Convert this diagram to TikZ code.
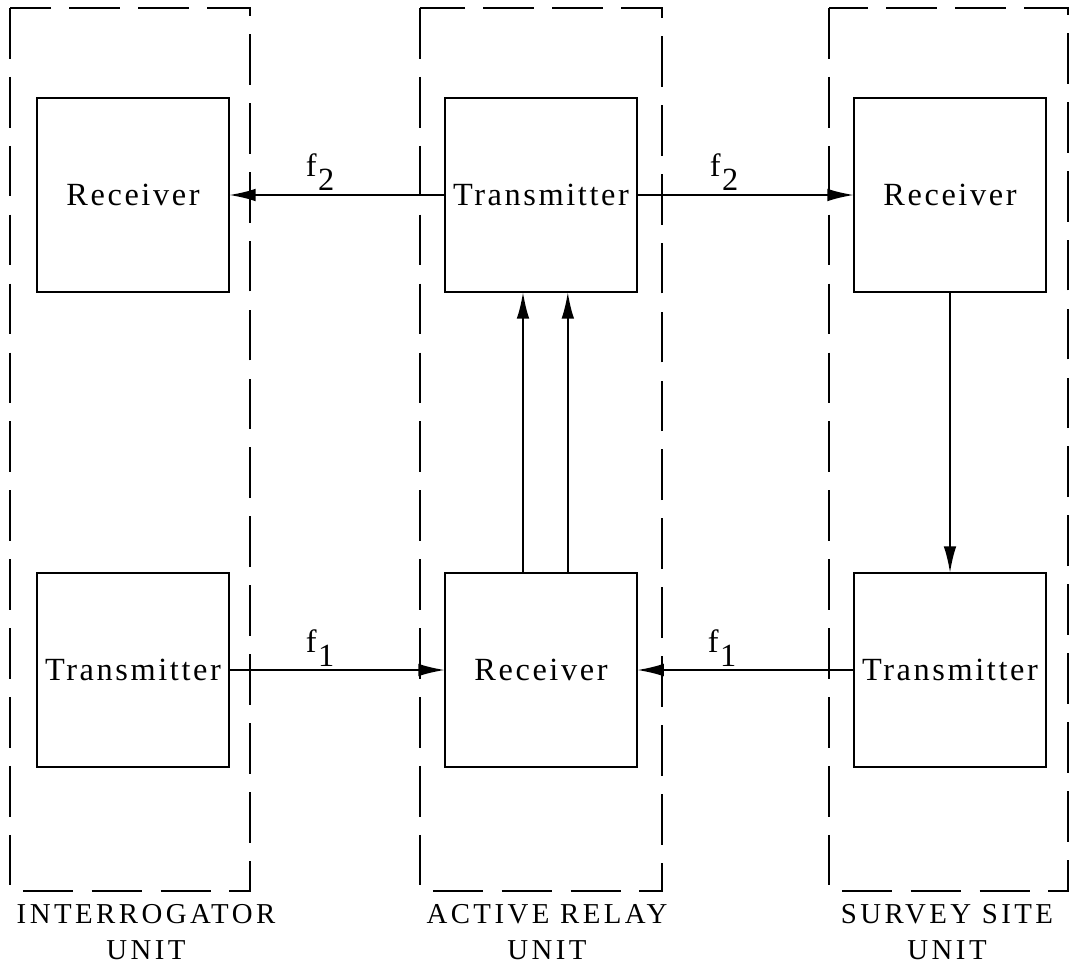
\documentclass[tikz,border=0pt]{standalone}
\usepackage{fontspec}
\setmainfont{Liberation Serif}
\newfontfamily\boxfont{Liberation Serif}[LetterSpace=8]
\newfontfamily\unitfont{Liberation Serif}[LetterSpace=12]
\usetikzlibrary{arrows.meta}

\begin{document}
\begin{tikzpicture}[x=0.025cm, y=-0.025cm,
    unitbox/.style={draw, line width=1.7pt, dash pattern=on 36pt off 13pt},
    block/.style={draw, line width=1.9pt, rectangle, inner sep=0pt, outer sep=0pt,
                  minimum width=4.8cm, minimum height=4.85cm, font=\boxfont\fontsize{23}{26}\selectfont},
    link/.style={line width=1.5pt, -{Latex[length=19pt, width=9pt]}},
    freq/.style={font=\boxfont\fontsize{23}{26}\selectfont},
    unitname/.style={font=\unitfont\fontsize{20.5}{26}\selectfont, align=center}]

    \useasboundingbox (0,0) rectangle (1071,966);

    % dashed outlines of the three units
    \draw [unitbox] (10,8) rectangle (250,891);
    \draw [unitbox] (420,8) rectangle (662,891);
    \draw [unitbox] (829,8) rectangle (1068,891);

    % interrogator unit
    \node [block] (irx) at (133,195) {Receiver};
    \node [block] (itx) at (133,670) {Transmitter};

    % active relay unit
    \node [block] (atx) at (541,195) {Transmitter};
    \node [block] (arx) at (541,670) {Receiver};

    % survey site unit
    \node [block] (srx) at (950,195) {Receiver};
    \node [block] (stx) at (950,670) {Transmitter};

    % links
    \draw [link] (atx.west) -- (irx.east);
    \draw [link] (atx.east) -- (srx.west);
    \draw [link] (itx.east) -- (arx.west);
    \draw [link] (stx.west) -- (arx.east);
    \draw [link] ([xshift=-0.45cm]arx.north) -- ([xshift=-0.45cm]atx.south);
    \draw [link] ([xshift=0.67cm]arx.north) -- ([xshift=0.67cm]atx.south);
    \draw [link] (srx.south) -- (stx.north);

    \node [freq] (f2l) at (320,172) {f\kern1pt\raisebox{-0.9ex}{2}};
    \node [freq] (f2r) at (724,172) {f\kern1pt\raisebox{-0.9ex}{2}};
    \node [freq] (f1l) at (320,648) {f\kern1pt\raisebox{-0.9ex}{1}};
    \node [freq] (f1r) at (722,648) {f\kern1pt\raisebox{-0.9ex}{1}};

    \node [unitname] (iname) at (146,932) {INTERROGATOR\\UNIT};
    \node [unitname] (aname) at (547,932) {ACTIVE RELAY\\UNIT};
    \node [unitname] (sname) at (947,932) {SURVEY SITE\\UNIT};
  \end{tikzpicture}
\end{document}
